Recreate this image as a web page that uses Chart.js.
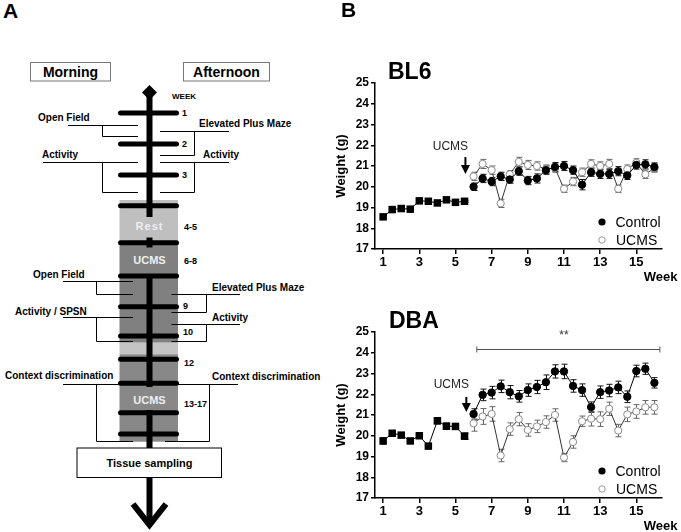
<!DOCTYPE html>
<html>
<head>
<meta charset="utf-8">
<script src="https://cdn.jsdelivr.net/npm/chart.js@4.4.1/dist/chart.umd.min.js"></script>
<style>
  body { margin: 0; background: #fff; font-family: "Liberation Sans", Arial, sans-serif; }
  #wrap { position: relative; width: 681px; height: 532px; overflow: hidden; }
  #wrap canvas { position: absolute; }
  .lbl { position: absolute; font-weight: bold; color: #000; line-height: 1; white-space: nowrap; }
  svg text { font-family: "Liberation Sans", Arial, sans-serif; font-weight: bold; }
</style>
</head>
<body>
<div id="wrap">
  <svg width="340" height="532" style="position:absolute;left:0;top:0">
    <!-- Morning / Afternoon boxes -->
    <rect x="30.5" y="62.5" width="80" height="18.5" fill="#fff" stroke="#777"/>
    <text x="70.5" y="72" font-size="14" text-anchor="middle" dominant-baseline="central">Morning</text>
    <rect x="183.5" y="62.5" width="86" height="18.5" fill="#fff" stroke="#777"/>
    <text x="226.5" y="72" font-size="14" text-anchor="middle" dominant-baseline="central">Afternoon</text>

    <!-- shaded blocks -->
    <rect x="119.5" y="200" width="58.5" height="43" fill="#bfbfbf"/>
    <rect x="119.5" y="243" width="58.5" height="99.7" fill="#808080"/>
    <rect x="119.5" y="342.7" width="58.5" height="11.6" fill="#c4c4c4"/>
    <rect x="119.5" y="354.3" width="58.5" height="87.4" fill="#888"/>

    <!-- brackets -->
    <g stroke="#000" stroke-width="1" fill="none">
      <path d="M68 125.5H138M102.5 125.5V136.5H138"/>
      <path d="M160 131.5H229M194.5 131.5V155.5H160"/>
      <path d="M43 162.5H138M102.5 162.5V192.5H138"/>
      <path d="M160 162.5H229M194.5 162.5V192.5H160"/>
      <path d="M63 281.5H133M96.5 281.5V294.5H133"/>
      <path d="M240 294.5H171.5M206.5 294.5V312.5H171.5"/>
      <path d="M63 317.5H133M96.5 317.5V341.5H133"/>
      <path d="M240 324.5H171.5M206.5 324.5V341.5H171.5"/>
      <path d="M63 384.5H133M96.5 384.5V441.5H133"/>
      <path d="M238 384.5H165M209.5 384.5V441.5H165"/>
    </g>

    <!-- spine -->
    <polygon points="149.5,85 157,92.5 149.5,100 142,92.5" fill="#000"/>
    <g fill="#000">
      <rect x="146.5" y="92" width="6" height="125"/>
      <rect x="146.5" y="237.5" width="6" height="10"/>
      <rect x="146.5" y="276" width="6" height="111"/>
      <rect x="146.5" y="410" width="6" height="38"/>
      <rect x="146.5" y="477.7" width="6" height="44"/>
    </g>
    <polyline points="133,504 149.5,525 166,504" fill="none" stroke="#000" stroke-width="6"/>

    <!-- week bars -->
    <g stroke="#000" stroke-width="5" stroke-linecap="round">
      <line x1="120.5" x2="176.5" y1="113" y2="113"/>
      <line x1="120.5" x2="176.5" y1="144" y2="144"/>
      <line x1="120.5" x2="176.5" y1="175" y2="175"/>
      <line x1="120.5" x2="176.5" y1="205.7" y2="205.7"/>
      <line x1="120.5" x2="176.5" y1="242.7" y2="242.7"/>
      <line x1="120.5" x2="176.5" y1="276" y2="276"/>
      <line x1="120.5" x2="176.5" y1="306.7" y2="306.7"/>
      <line x1="120.5" x2="176.5" y1="336" y2="336"/>
      <line x1="120.5" x2="176.5" y1="359.3" y2="359.3"/>
      <line x1="120.5" x2="176.5" y1="383.3" y2="383.3"/>
      <line x1="120.5" x2="176.5" y1="412.7" y2="412.7"/>
      <line x1="120.5" x2="176.5" y1="434" y2="434"/>
    </g>

    <!-- week numbers -->
    <g font-size="9" dominant-baseline="central">
      <text x="172" y="96" font-size="8">WEEK</text>
      <text x="182" y="113">1</text>
      <text x="182" y="144">2</text>
      <text x="182" y="175">3</text>
      <text x="184" y="227">4-5</text>
      <text x="184" y="261">6-8</text>
      <text x="183" y="306">9</text>
      <text x="183" y="332">10</text>
      <text x="184" y="363">12</text>
      <text x="184" y="404">13-17</text>
    </g>

    <!-- block labels -->
    <g font-size="11" fill="#eee" text-anchor="middle" dominant-baseline="central">
      <text x="149.5" y="226" letter-spacing="1">Rest</text>
      <text x="149.5" y="260">UCMS</text>
      <text x="149.5" y="399.5">UCMS</text>
    </g>

    <!-- test labels -->
    <g font-size="10" dominant-baseline="central">
      <text x="38" y="117.5">Open Field</text>
      <text x="199" y="123.5">Elevated Plus Maze</text>
      <text x="42" y="154.5">Activity</text>
      <text x="203" y="154.5">Activity</text>
      <text x="33" y="274.5">Open Field</text>
      <text x="212" y="287">Elevated Plus Maze</text>
      <text x="15" y="311">Activity / SPSN</text>
      <text x="212" y="317.5">Activity</text>
      <text x="5" y="375">Context discrimination</text>
      <text x="212" y="376.5">Context discrimination</text>
    </g>

    <rect x="77" y="448" width="144.5" height="29.5" fill="#fff" stroke="#000"/>
    <text x="149.5" y="463" font-size="11" text-anchor="middle" dominant-baseline="central">Tissue sampling</text>
  </svg>

  <canvas id="bl6" width="347" height="230" style="left:334px;top:60px"></canvas>
  <canvas id="dba" width="347" height="222" style="left:334px;top:310px"></canvas>

  <div class="lbl" style="left:3px;top:0px;font-size:21px">A</div>
  <div class="lbl" style="left:341px;top:-1px;font-size:21px">B</div>
  <div class="lbl" style="left:388px;top:60px;font-size:23px">BL6</div>
  <div class="lbl" style="left:389px;top:309px;font-size:23px">DBA</div>
</div>

<script>
// weeks
const weeksBase = [1, 1.5, 2, 2.5, 3, 3.5, 4, 4.5, 5, 5.5];
const weeksStress = [6, 6.5, 7, 7.5, 8, 8.5, 9, 9.5, 10, 10.5, 11, 11.5, 12, 12.5, 13, 13.5, 14, 14.5, 15, 15.5, 16];
const xTicks = [1, 3, 5, 7, 9, 11, 13, 15];
const yTicks = [17, 18, 19, 20, 21, 22, 23, 24, 25];

// BL6 weights (g) and SEM
const bl6Base = [18.55, 18.9, 18.95, 18.92, 19.32, 19.3, 19.22, 19.37, 19.25, 19.3];
const bl6BaseErr = [0.06, 0.06, 0.05, 0.05, 0.06, 0.06, 0.05, 0.06, 0.06, 0.05];
const bl6Control = [20.0, 20.4, 20.25, 20.5, 20.35, 20.75, 20.3, 20.4, 20.8, 20.95, 21.0, 20.8, 20.1, 20.7, 20.62, 20.62, 20.75, 20.55, 21.05, 21.08, 20.95];
const bl6ControlErr = [0.18, 0.2, 0.2, 0.2, 0.18, 0.2, 0.2, 0.22, 0.2, 0.22, 0.22, 0.2, 0.25, 0.2, 0.22, 0.22, 0.22, 0.2, 0.2, 0.22, 0.2];
const bl6Ucms = [20.5, 21.1, 20.8, 19.2, 20.6, 21.2, 21.05, 21.0, 20.85, 20.9, 19.9, 20.25, 20.7, 21.1, 21.0, 21.1, 19.9, 20.85, 21.15, 20.6, 20.9];
const bl6UcmsErr = [0.2, 0.22, 0.2, 0.2, 0.18, 0.22, 0.22, 0.2, 0.2, 0.2, 0.18, 0.2, 0.2, 0.2, 0.2, 0.22, 0.18, 0.2, 0.2, 0.2, 0.2];

// DBA weights (g) and SEM
const dbaBase = [19.75, 20.12, 20.03, 19.75, 20.0, 19.5, 20.72, 20.46, 20.45, 19.98];
const dbaBaseErr = [0.15, 0.12, 0.1, 0.12, 0.12, 0.1, 0.15, 0.15, 0.12, 0.15];
const dbaControl = [21.05, 21.97, 22.08, 22.38, 22.1, 21.9, 22.2, 22.35, 22.58, 23.1, 23.1, 22.4, 22.2, 21.38, 22.1, 22.18, 22.33, 21.88, 23.12, 23.23, 22.55];
const dbaControlErr = [0.25, 0.28, 0.3, 0.3, 0.32, 0.28, 0.3, 0.32, 0.35, 0.32, 0.35, 0.3, 0.3, 0.25, 0.3, 0.3, 0.3, 0.28, 0.28, 0.27, 0.25];
const dbaUcms = [20.6, 20.93, 21.05, 19.05, 20.32, 20.8, 20.28, 20.45, 20.66, 21.0, 18.95, 19.7, 20.7, 20.82, 20.8, 21.3, 20.25, 21.03, 21.17, 21.37, 21.37];
const dbaUcmsErr = [0.38, 0.38, 0.35, 0.3, 0.3, 0.32, 0.3, 0.3, 0.3, 0.3, 0.2, 0.3, 0.25, 0.35, 0.35, 0.32, 0.3, 0.35, 0.33, 0.33, 0.33];

const FONT = '"Liberation Sans", Arial, sans-serif';
Chart.defaults.font.family = FONT;

function pts(xs, ys, es) {
  return xs.map((x, i) => ({ x: x, y: ys[i], e: es[i] }));
}

// SEM bars, under the markers
const errorBars = {
  id: 'errorBars',
  beforeDatasetsDraw(chart) {
    const ctx = chart.ctx;
    const ys = chart.scales.y;
    chart.data.datasets.forEach((ds, di) => {
      const meta = chart.getDatasetMeta(di);
      ctx.save();
      ctx.strokeStyle = ds.errColor;
      ctx.lineWidth = 1;
      meta.data.forEach((pt, i) => {
        const d = ds.data[i];
        const px = Math.round(pt.x) + 0.5;
        const top = ys.getPixelForValue(d.y + d.e);
        const bot = ys.getPixelForValue(d.y - d.e);
        ctx.beginPath();
        ctx.moveTo(px, top); ctx.lineTo(px, bot);
        ctx.moveTo(px - 3, top); ctx.lineTo(px + 3, top);
        ctx.moveTo(px - 3, bot); ctx.lineTo(px + 3, bot);
        ctx.stroke();
      });
      ctx.restore();
    });
  }
};

// UCMS arrow, significance bar, legend, Week label
const annot = {
  id: 'annot',
  afterDraw(chart, args, o) {
    const ctx = chart.ctx;
    const x = chart.scales.x, y = chart.scales.y, a = chart.chartArea;
    ctx.save();

    const ax = x.getPixelForValue(o.arrowX);
    ctx.fillStyle = '#222';
    ctx.font = '12px ' + FONT;
    ctx.textAlign = 'center';
    ctx.textBaseline = 'middle';
    ctx.fillText('UCMS', ax - 15, y.getPixelForValue(o.labelY));
    const t = y.getPixelForValue(o.arrowTop), tip = y.getPixelForValue(o.arrowTip);
    ctx.strokeStyle = '#000';
    ctx.lineWidth = 2;
    ctx.beginPath(); ctx.moveTo(ax, t); ctx.lineTo(ax, tip - 7); ctx.stroke();
    ctx.fillStyle = '#000';
    ctx.beginPath(); ctx.moveTo(ax - 4.5, tip - 9); ctx.lineTo(ax + 4.5, tip - 9); ctx.lineTo(ax, tip); ctx.closePath(); ctx.fill();

    if (o.sig) {
      const x1 = x.getPixelForValue(o.sig[0]), x2 = x.getPixelForValue(o.sig[1]);
      const sy = Math.round(y.getPixelForValue(o.sig[2])) + 0.5;
      ctx.strokeStyle = '#555';
      ctx.lineWidth = 1;
      ctx.beginPath();
      ctx.moveTo(x1, sy); ctx.lineTo(x2, sy);
      ctx.moveTo(x1, sy - 3); ctx.lineTo(x1, sy + 3);
      ctx.moveTo(x2, sy - 3); ctx.lineTo(x2, sy + 3);
      ctx.stroke();
      ctx.fillStyle = '#333';
      ctx.font = '12px ' + FONT;
      ctx.textBaseline = 'alphabetic';
      ctx.fillText('**', x.getPixelForValue(o.sig[3]), y.getPixelForValue(o.sig[4]));
    }

    // legend
    ctx.textAlign = 'left';
    ctx.textBaseline = 'middle';
    ctx.font = '14px ' + FONT;
    const lx = a.right - 60;
    ctx.fillStyle = '#000';
    ctx.beginPath(); ctx.arc(lx, a.bottom - 27, 3.6, 0, Math.PI * 2); ctx.fill();
    ctx.fillText('Control', lx + 13.5, a.bottom - 26);
    ctx.fillStyle = '#fff';
    ctx.strokeStyle = '#999';
    ctx.lineWidth = 1;
    ctx.beginPath(); ctx.arc(lx, a.bottom - 9, 3.2, 0, Math.PI * 2); ctx.fill(); ctx.stroke();
    ctx.fillStyle = '#000';
    ctx.fillText('UCMS', lx + 14, a.bottom - 8);

    ctx.font = 'bold 13px ' + FONT;
    ctx.textAlign = 'right';
    ctx.fillText('Week', a.right + 15.5, a.bottom + 28);
    ctx.restore();
  }
};

function makeChart(id, base, baseErr, ctrl, ctrlErr, ucms, ucmsErr, padTop, xH, extra) {
  return new Chart(document.getElementById(id), {
    type: 'line',
    data: {
      datasets: [
        {
          label: 'Control',
          data: pts(weeksStress, ctrl, ctrlErr),
          borderColor: '#000', borderWidth: 1,
          pointStyle: 'circle', pointRadius: 3.7,
          pointBackgroundColor: '#000', pointBorderColor: '#000', pointBorderWidth: 1,
          errColor: '#111'
        },
        {
          label: 'UCMS',
          data: pts(weeksStress, ucms, ucmsErr),
          borderColor: '#333', borderWidth: 1,
          pointStyle: 'circle', pointRadius: 3.6,
          pointBackgroundColor: '#fff', pointBorderColor: '#8a8a8a', pointBorderWidth: 1,
          errColor: '#666'
        },
        {
          label: 'Baseline',
          data: pts(weeksBase, base, baseErr),
          borderColor: '#000', borderWidth: 1,
          pointStyle: 'rect', pointRadius: 5.3,
          pointBackgroundColor: '#000', pointBorderColor: '#000', pointBorderWidth: 0,
          errColor: '#000'
        }
      ]
    },
    options: {
      responsive: false,
      animation: false,
      events: [],
      layout: { padding: { top: padTop, right: 19, left: 0, bottom: 0 } },
      scales: {
        x: {
          type: 'linear', min: 0.55, max: 16.42,
          afterBuildTicks: s => { s.ticks = xTicks.map(v => ({ value: v })); },
          afterFit: s => { s.height = xH; },
          grid: { drawOnChartArea: false, tickLength: 5, color: '#000', lineWidth: 1.5 },
          border: { color: '#000', width: 1.5 },
          ticks: { color: '#000', font: { size: 13, weight: 'bold' }, padding: 1, maxRotation: 0, autoSkip: false }
        },
        y: {
          min: 17, max: 25,
          afterBuildTicks: s => { s.ticks = yTicks.map(v => ({ value: v })); },
          afterFit: s => { s.width = 41; },
          grid: { drawOnChartArea: false, tickLength: 4, color: '#000', lineWidth: 1.5 },
          border: { color: '#000', width: 1.5 },
          ticks: { color: '#000', font: { size: 12, weight: 'bold' }, padding: 2 },
          title: { display: true, text: 'Weight (g)', color: '#000', font: { size: 13, weight: 'bold' }, padding: { top: 0, bottom: 0 } }
        }
      },
      plugins: {
        legend: { display: false },
        tooltip: { enabled: false },
        annot: extra
      }
    },
    plugins: [errorBars, annot]
  });
}

makeChart('bl6', bl6Base, bl6BaseErr, bl6Control, bl6ControlErr, bl6Ucms, bl6UcmsErr, 23, 41,
  { arrowX: 5.55, labelY: 21.92, arrowTop: 21.43, arrowTip: 20.61 });

makeChart('dba', dbaBase, dbaBaseErr, dbaControl, dbaControlErr, dbaUcms, dbaUcmsErr, 22, 34,
  { arrowX: 5.6, labelY: 22.45, arrowTop: 21.87, arrowTip: 21.14, sig: [6.18, 16.3, 24.18, 11, 24.68] });
</script>
</body>
</html>
